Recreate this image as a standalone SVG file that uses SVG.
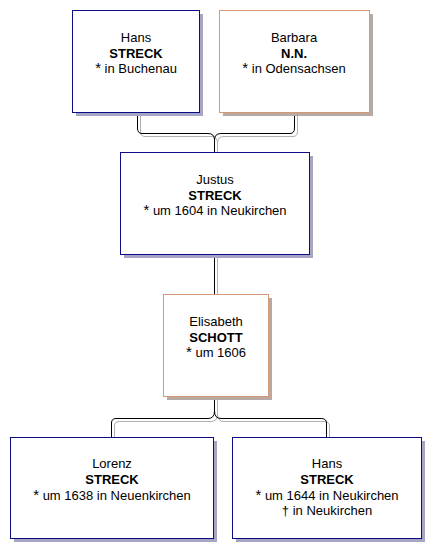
<svg xmlns="http://www.w3.org/2000/svg" width="440" height="558" viewBox="0 0 440 558">
<style>
.bg{fill:#ffffff}
.m{fill:#ffffff;stroke:#0c0c88;stroke-width:1}
.f{fill:#ffffff;stroke:#d49a78;stroke-width:1}
.sm{fill:#a6a6c4}
.sf{fill:#b8aaa2}
text{font-family:"Liberation Sans",Arial,sans-serif;font-size:13px;fill:#000;text-anchor:middle}
.b{font-weight:bold}
.a{font-size:15px}
.cs{fill:none;stroke:#b0b0b0;stroke-width:1}
.c{fill:none;stroke:#000;stroke-width:1}
</style>
<rect class="bg" x="0" y="0" width="440" height="558"/>
<g id="connectors">
<g transform="translate(3,3)" class="cs">
<path d="M137.5,112 V128 Q137.5,133.5 142,133.5 H208 Q214.5,133.5 214.5,140 V149"/>
<path d="M294.5,112 V128 Q294.5,133.5 290,133.5 H221 Q214.5,133.5 214.5,140"/>
<path d="M214.5,254 V291"/>
<path d="M214.5,396 V411 Q214.5,418.5 208,418.5 H116 Q111.5,418.5 111.5,423 V434"/>
<path d="M214.5,411 Q214.5,418.5 221,418.5 H321 Q326.5,418.5 326.5,423 V434"/>
</g>
<g class="c">
<path d="M137.5,112 V128 Q137.5,133.5 142,133.5 H208 Q214.5,133.5 214.5,140 V152"/>
<path d="M294.5,112 V128 Q294.5,133.5 290,133.5 H221 Q214.5,133.5 214.5,140"/>
<path d="M214.5,254 V294"/>
<path d="M214.5,396 V411 Q214.5,418.5 208,418.5 H116 Q111.5,418.5 111.5,423 V437"/>
<path d="M214.5,411 Q214.5,418.5 221,418.5 H321 Q326.5,418.5 326.5,423 V437"/>
</g>
</g>
<g id="hans1">
<rect class="sm" x="76" y="14" width="127" height="102"/>
<rect class="m" x="72.5" y="10.5" width="127" height="102"/>
<text x="136" y="42">Hans</text>
<text class="b" x="136" y="58">STRECK</text>
<text x="136" y="73"><tspan class="a">*</tspan> in Buchenau</text>
</g>
<g id="barbara">
<rect class="sf" x="223" y="14" width="150" height="102"/>
<rect class="f" x="219.5" y="10.5" width="150" height="102"/>
<text x="294" y="42">Barbara</text>
<text class="b" x="294" y="58">N.N.</text>
<text x="294" y="73"><tspan class="a">*</tspan> in Odensachsen</text>
</g>
<g id="justus">
<rect class="sm" x="124" y="156" width="189" height="102"/>
<rect class="m" x="120.5" y="152.5" width="189" height="102"/>
<text x="215" y="184">Justus</text>
<text class="b" x="215" y="199.5">STRECK</text>
<text x="215" y="215"><tspan class="a">*</tspan> um 1604 in Neukirchen</text>
</g>
<g id="elisabeth">
<rect class="sf" x="167" y="298" width="105" height="102"/>
<rect class="f" x="163.5" y="294.5" width="105" height="102"/>
<text x="216" y="326">Elisabeth</text>
<text class="b" x="216" y="341.5">SCHOTT</text>
<text x="216" y="357"><tspan class="a">*</tspan> um 1606</text>
</g>
<g id="lorenz">
<rect class="sm" x="14" y="441" width="203" height="101"/>
<rect class="m" x="10.5" y="437.5" width="203" height="101"/>
<text x="112" y="468">Lorenz</text>
<text class="b" x="112" y="484">STRECK</text>
<text x="112" y="499.5"><tspan class="a">*</tspan> um 1638 in Neuenkirchen</text>
</g>
<g id="hans2">
<rect class="sm" x="236" y="441" width="189" height="101"/>
<rect class="m" x="232.5" y="437.5" width="189" height="101"/>
<text x="327" y="468">Hans</text>
<text class="b" x="327" y="484">STRECK</text>
<text x="327" y="499.5"><tspan class="a">*</tspan> um 1644 in Neukirchen</text>
<text x="327" y="514.5">† in Neukirchen</text>
</g>
</svg>
